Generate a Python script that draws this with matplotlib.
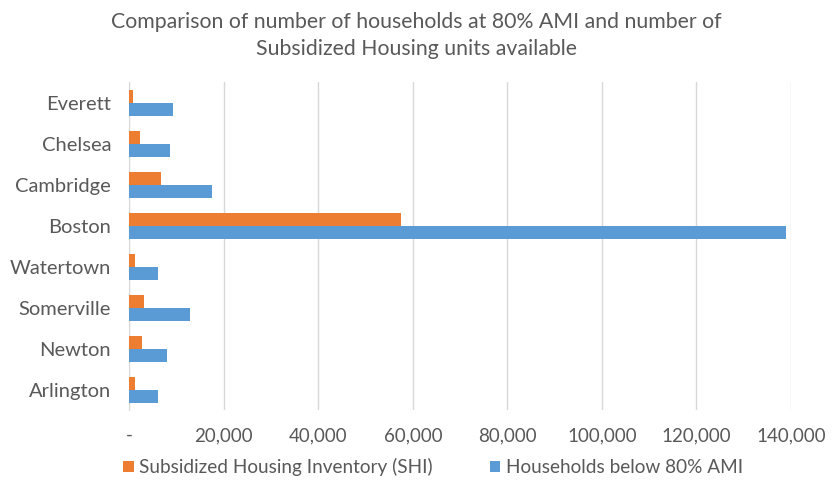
import matplotlib
matplotlib.use("Agg")
import matplotlib.pyplot as plt
import numpy as np
from matplotlib.ticker import FuncFormatter

# data
towns = ["Everett", "Chelsea", "Cambridge", "Boston",
         "Watertown", "Somerville", "Newton", "Arlington"]
shi_units = [700, 2300, 6800, 57400, 1200, 3100, 2750, 1200]
households_80ami = [9300, 8700, 17600, 139000, 6100, 12800, 8000, 6100]

orange = "#ED7D31"
blue = "#5B9BD5"
grey = "#595959"

plt.rcParams['font.family'] = ['Lato', 'DejaVu Sans']

fig = plt.figure(figsize=(8.33, 4.88), dpi=100)
ax = fig.add_axes([0.1552, 0.159, 0.7944, 0.672])

y = np.arange(len(towns))
h = 0.32
ax.barh(y - h / 2, shi_units, height=h, color=orange,
        label="Subsidized Housing Inventory (SHI)", zorder=3)
ax.barh(y + h / 2, households_80ami, height=h, color=blue,
        label="Households below 80% AMI", zorder=3)

ax.set_ylim(len(towns) - 0.5, -0.5)
ax.set_xlim(0, 140000)
ax.set_xticks(np.arange(0, 140001, 20000))
ax.xaxis.set_major_formatter(FuncFormatter(lambda v, p: "-" if v == 0 else f"{int(v):,}"))
ax.set_yticks(y)
ax.set_yticklabels(towns)

ax.grid(axis="x", color="#D9D9D9", linewidth=1, zorder=0)
for s in ["top", "right", "bottom"]:
    ax.spines[s].set_visible(False)
ax.spines["left"].set_color("#D9D9D9")
ax.tick_params(axis="both", length=0, colors=grey)
ax.tick_params(axis="x", pad=12, labelsize=13.5)
ax.tick_params(axis="y", pad=13, labelsize=14.5)

fig.suptitle("Comparison of number of households at 80% AMI and number of\n"
             "Subsidized Housing units available",
             y=0.975, fontsize=15.3, color=grey, linespacing=1.4)

leg = fig.legend(loc="center", bbox_to_anchor=(0.52, 0.043), ncol=2,
                 frameon=False, fontsize=13.7, handlelength=0.55, handleheight=0.55,
                 handletextpad=0.3, columnspacing=3.0)
for t in leg.get_texts():
    t.set_color(grey)

fig.savefig("out.png", dpi=100)
